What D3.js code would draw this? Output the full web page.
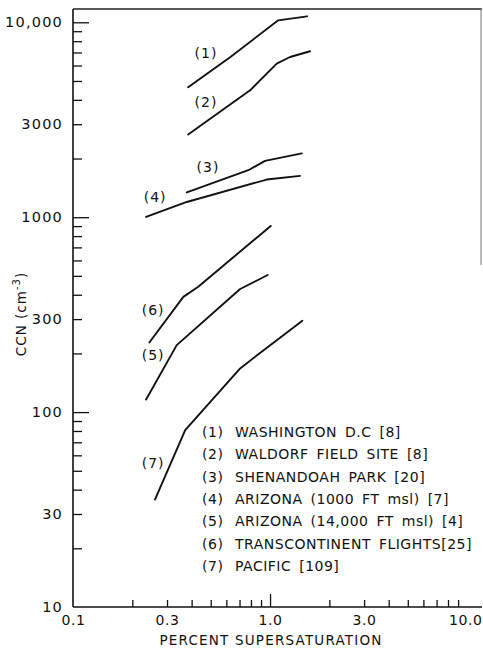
<!DOCTYPE html>
<html>
<head>
<meta charset="utf-8">
<script src="https://cdn.jsdelivr.net/npm/d3@7/dist/d3.min.js"></script>
<style>
  html, body { margin: 0; padding: 0; background: #fff; }
  svg { display: block; }
  text { font-family: "DejaVu Sans", sans-serif; fill: #111; }
</style>
</head>
<body>
<svg id="chart" width="483" height="652"></svg>
<script>
// Supersaturation (%) and CCN concentration (cm^-3) along each spectrum
const s1 = [0.384, 0.627, 1.10, 1.54];
const n1 = [4640, 6620, 10230, 10730];
const s2 = [0.384, 0.792, 1.081, 1.263, 1.596];
const n2 = [2655, 4475, 6140, 6635, 7100];
const s3 = [0.378, 0.776, 0.943, 1.449];
const n3 = [1340, 1742, 1945, 2124];
const s4 = [0.235, 0.378, 0.962, 1.419];
const n4 = [1004, 1197, 1560, 1629];
const s5 = [0.235, 0.336, 0.705, 0.973];
const n5 = [116, 220.6, 428, 505];
const s6 = [0.244, 0.363, 0.432, 1.008];
const n6 = [227.5, 390, 440, 902];
const s7 = [0.2606, 0.371, 0.705, 0.872, 1.459];
const n7 = [35.6, 80.9, 167.5, 198, 294];

const seriesIds = ["(1)", "(2)", "(3)", "(4)", "(5)", "(6)", "(7)"];
const seriesNames = [
  "WASHINGTON D.C [8]",
  "WALDORF FIELD SITE [8]",
  "SHENANDOAH PARK [20]",
  "ARIZONA (1000 FT msl) [7]",
  "ARIZONA (14,000 FT msl) [4]",
  "TRANSCONTINENT FLIGHTS[25]",
  "PACIFIC [109]"
];

const xTickLabels = ["0.1", "0.3", "1.0", "3.0", "10.0"];
const xTickValues = [0.1, 0.3, 1, 3, 10];
const yTickLabels = ["10", "30", "100", "300", "1000", "3000", "10,000"];
const yTickValues = [10, 30, 100, 300, 1000, 3000, 10000];

// Where each curve's "(n)" tag sits, in data units
const tagS = [0.473, 0.473, 0.484, 0.261, 0.255, 0.255, 0.255];
const tagN = [6935, 3890, 1803, 1268, 196, 333, 54.7];

const svg = d3.select("#chart");

const x = d3.scaleLog().domain([0.1, 11.9]).range([73, 482]);
const y = d3.scaleLog().domain([10, 11700]).range([607, 9]);

const minorValues = (lo, hi) => {
  const out = [];
  for (let d = lo; d < hi; d *= 10)
    for (let k = 2; k <= 9; k++) out.push(d * k);
  return out;
};

const axisStyle = g => {
  g.select(".domain").remove();
  g.selectAll(".tick line").attr("stroke", "#111").attr("stroke-width", 1.3);
};

// Y axis: minor ticks, major ticks, labels
svg.append("g").attr("transform", "translate(73,0)")
  .call(d3.axisLeft(y).tickValues(minorValues(10, 10000)).tickSize(-9).tickFormat(""))
  .call(axisStyle);
svg.append("g").attr("transform", "translate(73,0)")
  .call(d3.axisLeft(y).tickValues([100, 1000, 10000]).tickSize(-16).tickFormat(""))
  .call(axisStyle);
svg.append("g").attr("transform", "translate(73,0)")
  .call(d3.axisLeft(y).tickValues(yTickValues).tickSize(0).tickPadding(10)
    .tickFormat((d, i) => yTickLabels[i]))
  .call(g => g.select(".domain").remove())
  .call(g => g.selectAll("text").attr("font-size", 14.5).attr("letter-spacing", 1.2)
    .style("font-family", '"DejaVu Sans", sans-serif').attr("fill", "#111"));

// X axis: minor ticks, major tick, labels
svg.append("g").attr("transform", "translate(0,607)")
  .call(d3.axisBottom(x).tickValues(minorValues(0.1, 10)).tickSize(-7).tickFormat(""))
  .call(axisStyle);
svg.append("g").attr("transform", "translate(0,607)")
  .call(d3.axisBottom(x).tickValues([1]).tickSize(-13).tickFormat(""))
  .call(axisStyle);
svg.append("g").attr("transform", "translate(0,607)")
  .call(d3.axisBottom(x).tickValues(xTickValues).tickSize(0).tickPadding(8)
    .tickFormat((d, i) => xTickLabels[i]))
  .call(g => g.select(".domain").remove())
  .call(g => g.selectAll("text").attr("font-size", 14).attr("letter-spacing", 0.6)
    .style("font-family", '"DejaVu Sans", sans-serif').attr("fill", "#111"))
  .call(g => g.selectAll(".tick").filter(d => d === 10).select("text")
    .attr("text-anchor", "end").attr("x", 482 - x(10)));

// Frame: left and bottom axis lines, top border, upper part of right border
const [x0, x1] = x.range();
const [yb, yt] = y.range();
svg.append("line").attr("x1", x0).attr("x2", x0).attr("y1", yt).attr("y2", yb)
  .attr("stroke", "#111").attr("stroke-width", 1.6);
svg.append("line").attr("x1", x0).attr("x2", x1).attr("y1", yb).attr("y2", yb)
  .attr("stroke", "#111").attr("stroke-width", 1.6);
svg.append("line").attr("x1", x0).attr("x2", x1).attr("y1", yt).attr("y2", yt)
  .attr("stroke", "#222").attr("stroke-width", 1.3);
svg.append("line").attr("x1", x1 - 1).attr("x2", x1 - 1).attr("y1", yt).attr("y2", 265)
  .attr("stroke", "#777").attr("stroke-width", 1);

// Curves
const allS = [s1, s2, s3, s4, s5, s6, s7];
const allN = [n1, n2, n3, n4, n5, n6, n7];
const line = d3.line().x(d => x(d[0])).y(d => y(d[1]));
allS.forEach((s, i) => {
  const pts = s.map((v, j) => [v, allN[i][j]]);
  svg.append("path").attr("d", line(pts))
    .attr("fill", "none").attr("stroke", "#111").attr("stroke-width", 1.9)
    .attr("stroke-linejoin", "round").attr("stroke-linecap", "round");
});

// Curve tags
seriesIds.forEach((id, i) => {
  svg.append("text").attr("x", x(tagS[i])).attr("y", y(tagN[i]))
    .attr("text-anchor", "middle").attr("dominant-baseline", "central")
    .attr("font-size", 14).attr("letter-spacing", 1).text(id);
});

// Key
const key = svg.append("g").attr("transform", "translate(202,432)");
seriesIds.forEach((id, i) => {
  key.append("text").attr("x", 0).attr("y", i * 22.3)
    .attr("dominant-baseline", "central")
    .attr("font-size", 14).attr("letter-spacing", 0.6)
    .text(id);
  key.append("text").attr("x", 33).attr("y", i * 22.3)
    .attr("dominant-baseline", "central")
    .attr("font-size", 14).attr("letter-spacing", 0.5).attr("word-spacing", 3)
    .text(seriesNames[i]);
});

// Axis titles
svg.append("text").attr("x", 271).attr("y", 640)
  .attr("text-anchor", "middle").attr("dominant-baseline", "central")
  .attr("font-size", 13.5).attr("letter-spacing", 1.2)
  .text("PERCENT SUPERSATURATION");

const yTitle = svg.append("text")
  .attr("transform", "translate(21,314) rotate(-90)")
  .attr("text-anchor", "middle").attr("dominant-baseline", "central")
  .attr("font-size", 13.5).attr("letter-spacing", 1);
yTitle.append("tspan").text("CCN (cm");
yTitle.append("tspan").attr("dy", -5).attr("font-size", 10).text("-3");
yTitle.append("tspan").attr("dy", 5).text(")");
</script>
</body>
</html>
